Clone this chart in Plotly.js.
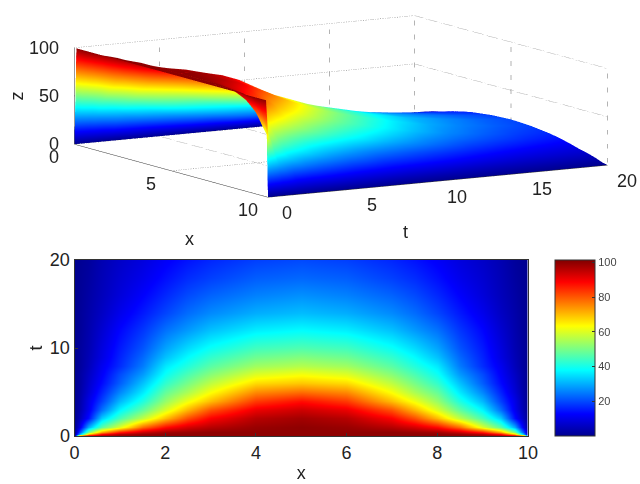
<!DOCTYPE html>
<html><head><meta charset="utf-8">
<script src="https://cdn.plot.ly/plotly-3.0.1.min.js"></script>
<style>html,body{margin:0;padding:0;background:#fff}#c{width:640px;height:484px}</style>
</head><body><div id="c"></div>
<script>
const xs = [0,0.1,0.3,0.6,1,1.5,2,2.5,3,4,5,6,7,7.5,8,8.5,9,9.4,9.7,9.9,10];
const ts = [0,0.25,0.5,1,2,3,4,5,6,7,8,9,10,12,14,16,18,20];
const u00 = [0,100,100,100,100,100,100,100,100,100,100,100,100,100,100,100,100,100,100,100,0];
const u01 = [0,30,70,88,96,99,100,100,100,100,100,100,100,100,100,99,96,88,70,30,0];
const u02 = [0,20,50,72,86,94,98,99,100,100,100,100,100,99,98,94,86,72,50,20,0];
const u03 = [0,10,30,47,60,78,88,93,96,99,100,99,96,93,88,78,60,47,30,10,0];
const u04 = [0,5,14,33,45,57,70,81,89,96,98,96,89,81,70,57,45,33,14,5,0];
const u05 = [0,3.5,11,24,37.5,48,60,71,81,91,94,91,81,71,60,48,37.5,24,11,3.5,0];
const u06 = [0,3,10,19,31,41,53,62,70,83,87.5,83,70,62,53,41,31,19,10,3,0];
const u07 = [0,2.5,8,16,26,36,48,55,63,75,78,75,63,55,48,36,26,16,8,2.5,0];
const u08 = [0,2,7,13.5,22,32,43,50,57,67,69,67,57,50,43,32,22,13.5,7,2,0];
const u09 = [0,2,6,12,20,28,39,45.5,51.5,60,62.5,60,51.5,45.5,39,28,20,12,6,2,0];
const u10 = [0,1.5,5,11,17,25,36,41.5,47,54,56,54,47,41.5,36,25,17,11,5,1.5,0];
const u11 = [0,1.5,4.5,9.5,16,23,32,38,43,49,51,49,43,38,32,23,16,9.5,4.5,1.5,0];
const u12 = [0,1.5,4,9,15,21,29,34.5,39,44.5,46,44.5,39,34.5,29,21,15,9,4,1.5,0];
const u13 = [0,1,3.5,7.5,13,18,24,28,32,36.5,38,36.5,32,28,24,18,13,7.5,3.5,1,0];
const u14 = [0,1,3,6,10.5,15,19.5,23.5,26.5,30,31.5,30,26.5,23.5,19.5,15,10.5,6,3,1,0];
const u15 = [0,0.8,2.5,5,8.5,12.5,16.5,20,22.5,25.5,27,25.5,22.5,20,16.5,12.5,8.5,5,2.5,0.8,0];
const u16 = [0,0.7,2,4.5,7.5,10.5,14,17,19,22,23,22,19,17,14,10.5,7.5,4.5,2,0.7,0];
const u17 = [0,0.6,1.5,4,6.5,9,12,14.5,16.5,19,20,19,16.5,14.5,12,9,6.5,4,1.5,0.6,0];
const grid = [u00,u01,u02,u03,u04,u05,u06,u07,u08,u09,u10,u11,u12,u13,u14,u15,u16,u17];

const xTicks3d = [0,5,10];
const tTicks3d = [0,5,10,15,20];
const zTicks3d = [0,50,100];
const cbTicks = [20,40,60,80,100];

const jet = [[0,'rgb(0,0,143)'],[0.125,'rgb(0,0,255)'],[0.375,'rgb(0,255,255)'],[0.625,'rgb(255,255,0)'],[0.875,'rgb(255,0,0)'],[1,'rgb(128,0,0)']];
const font = 'Liberation Sans, Arial, sans-serif';

function seg(a,b,dash,color){
  return {type:'scatter3d',mode:'lines',x:[a[0],b[0]],y:[a[1],b[1]],z:[a[2],b[2]],
    line:{color:color,width:1,dash:dash},hoverinfo:'skip',showlegend:false};
}
const traces = [];
traces.push({type:'surface',x:xs,y:ts,z:grid,colorscale:jet,cmin:0,cmax:101.5,showscale:false,
  lighting:{ambient:1,diffuse:0,specular:0,fresnel:0,roughness:1},hoverinfo:'skip',
  contours:{x:{show:false},y:{show:false},z:{show:false}}});
const dotc = '#666';
zTicks3d.forEach(z=>{
  traces.push(seg([0,0,z],[0,20,z],'dot',dotc));
  traces.push(seg([0,20,z],[10,20,z],'dot',dotc));
});
tTicks3d.forEach(t=>{
  traces.push(seg([0,t,0],[0,t,100],'dot',dotc));
  traces.push(seg([0,t,0],[10,t,0],'dot',dotc));
});
xTicks3d.forEach(x=>{
  traces.push(seg([x,20,0],[x,20,100],'dot',dotc));
  traces.push(seg([x,0,0],[x,20,0],'dot',dotc));
});
traces.push(seg([0,0,0],[10,0,0],'solid','#333'));
traces.push(seg([10,0,0],[10,20,0],'solid','#333'));
traces.push(seg([0,0,0],[0,0,100],'solid','#333'));

traces.push({type:'heatmap',x:xs,y:ts,z:grid,colorscale:jet,zmin:0,zmax:101.5,zsmooth:'best',xaxis:'x',yaxis:'y',
  hoverinfo:'skip',
  colorbar:{x:555/640,xanchor:'left',xref:'paper',y:(484-436)/484,yanchor:'bottom',len:176/484,lenmode:'fraction',thickness:40,thicknessmode:'pixels',
    tickvals:cbTicks,ticktext:cbTicks.map(String),ticks:'inside',ticklen:3,tickcolor:'#333',outlinecolor:'#333',outlinewidth:1,xpad:0,ypad:0,
    tickfont:{family:font,size:11,color:'#444'}}});

const tickFont = {family:font,size:18,color:'#222'};
const ann3d = [];
function lab(x,y,z,text,xs_,ys_,rot,anchor){ann3d.push({x,y,z,text:String(text),showarrow:false,xshift:xs_,yshift:ys_,textangle:rot||0,xanchor:anchor||'center',font:tickFont});}
zTicks3d.forEach(z=>lab(0,0,z,z,-13,0,0,'right'));
xTicks3d.forEach(x=>lab(x,0,0,x,-20,-13));
tTicks3d.forEach(t=>lab(10,t,0,t,19,-15.5));
lab(5,0,0,'x',18.5,-68.5);
lab(10,10,0,'t',-32,-51);
lab(0,0,50,'z',-57,0,-90);

const hiddenAxis = r=>({range:r,autorange:false,showgrid:false,zeroline:false,showline:false,showticklabels:false,ticks:'',showbackground:false,showspikes:false,title:{text:''}});
const layout = {
  width:640,height:484,margin:{l:0,r:0,t:0,b:0},paper_bgcolor:'#fff',plot_bgcolor:'#fff',showlegend:false,
  scene:{domain:{x:[0,1],y:[1-215/484,1]},
    xaxis:hiddenAxis([0,10]),yaxis:hiddenAxis([0,20]),zaxis:hiddenAxis([0,100]),
    aspectmode:'manual',aspectratio:{x:3.554,y:3.666,z:0.91},
    camera:{projection:{type:'orthographic'},up:{x:0,y:0,z:1},center:{x:-0.099,y:-0.169,z:-0.01},eye:{x:5.01,y:-3.17,z:0.956}},
    annotations:ann3d},
  xaxis:{domain:[74.5/640,528/640],range:[0,10],tickvals:[0,2,4,6,8,10],ticks:'inside',ticklen:3,tickcolor:'#333',tickfont:tickFont,showgrid:false,zeroline:false,
    showline:true,mirror:true,linecolor:'#333',linewidth:1,title:{text:'x',font:tickFont,standoff:4},anchor:'y'},
  yaxis:{domain:[(484-436)/484,(484-260)/484],range:[0,20],tickvals:[0,10,20],ticks:'inside',ticklen:3,tickcolor:'#333',tickfont:tickFont,showgrid:false,zeroline:false,
    showline:true,mirror:true,linecolor:'#333',linewidth:1,title:{text:'t',font:tickFont,standoff:2},anchor:'x'}
};
Plotly.newPlot('c',traces,layout,{displayModeBar:false});
</script></body></html>
